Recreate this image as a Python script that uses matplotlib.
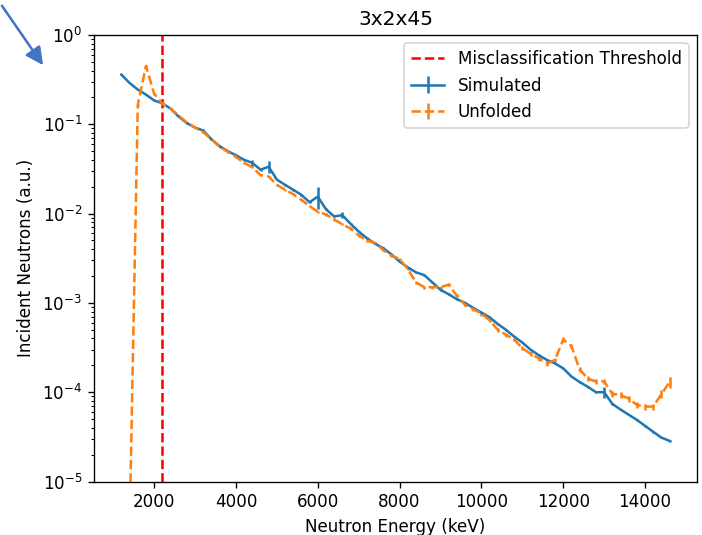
import numpy as np
import matplotlib
matplotlib.use("Agg")
import matplotlib.pyplot as plt

# energy grid (keV) and spectra
energy = list(range(1200, 14601, 200))

simulated = [0.36, 0.29, 0.245, 0.215, 0.185, 0.172, 0.150, 0.122, 0.103, 0.092,
             0.085, 0.068, 0.057, 0.050, 0.045, 0.040, 0.037, 0.031, 0.0335, 0.024,
             0.021, 0.0185, 0.0162, 0.0134, 0.0155, 0.0112, 0.0093, 0.0096, 0.0077, 0.0063,
             0.0053, 0.0046, 0.0041, 0.0035, 0.0029, 0.0025, 0.0022, 0.00205, 0.0017, 0.0014,
             0.00125, 0.0011, 0.0010, 0.00088, 0.00078, 0.00069, 0.00058, 0.00050, 0.00042, 0.00036,
             0.00030, 0.00026, 0.00023, 0.00021, 0.000185, 0.00015, 0.00013, 0.000115, 0.00010, 0.00010,
             7.4e-5, 6.4e-5, 5.6e-5, 4.9e-5, 4.2e-5, 3.6e-5, 3.1e-5, 2.85e-5]

# relative errors on simulated
sim_relerr = [0.01, 0.01, 0.01, 0.01, 0.01, 0.01, 0.01, 0.01, 0.01, 0.01,
              0.05, 0.01, 0.01, 0.01, 0.01, 0.02, 0.09, 0.02, 0.15, 0.02,
              0.02, 0.02, 0.02, 0.02, 0.27, 0.02, 0.02, 0.08, 0.02, 0.02,
              0.02, 0.02, 0.02, 0.02, 0.02, 0.02, 0.02, 0.03, 0.02, 0.02,
              0.02, 0.02, 0.02, 0.02, 0.02, 0.02, 0.02, 0.02, 0.02, 0.02,
              0.02, 0.02, 0.02, 0.02, 0.02, 0.02, 0.02, 0.02, 0.02, 0.13,
              0.02, 0.02, 0.02, 0.02, 0.02, 0.02, 0.02, 0.02]

unfolded = [1e-8, 3e-6, 0.165, 0.45, 0.22, 0.17, 0.150, 0.125, 0.105, 0.092,
            0.082, 0.068, 0.056, 0.049, 0.043, 0.037, 0.033, 0.027, 0.026, 0.021,
            0.0185, 0.0165, 0.0143, 0.0121, 0.0105, 0.0098, 0.0086, 0.0076, 0.0068, 0.0057,
            0.0050, 0.0047, 0.0039, 0.0034, 0.0031, 0.0024, 0.0017, 0.0015, 0.0015, 0.0015,
            0.0016, 0.0012, 0.00095, 0.00085, 0.00076, 0.00064, 0.00050, 0.00044, 0.00039, 0.00031,
            0.00027, 0.00024, 0.00021, 0.00023, 0.00039, 0.00033, 0.00018, 0.000142, 0.000132, 0.000132,
            9.6e-5, 9.3e-5, 8.5e-5, 7.2e-5, 6.9e-5, 6.9e-5, 9.5e-5, 0.00013]

unf_relerr = [0.0, 0.0, 0.02, 0.02, 0.02, 0.02, 0.02, 0.02, 0.02, 0.02,
              0.02, 0.02, 0.02, 0.02, 0.02, 0.02, 0.02, 0.02, 0.02, 0.02,
              0.03, 0.03, 0.03, 0.03, 0.03, 0.03, 0.03, 0.03, 0.03, 0.03,
              0.03, 0.03, 0.03, 0.03, 0.03, 0.03, 0.04, 0.04, 0.04, 0.04,
              0.04, 0.04, 0.04, 0.04, 0.05, 0.05, 0.05, 0.05, 0.05, 0.05,
              0.06, 0.06, 0.06, 0.06, 0.06, 0.06, 0.07, 0.07, 0.07, 0.07,
              0.08, 0.08, 0.08, 0.08, 0.08, 0.08, 0.10, 0.15]

threshold = 2200

sim = np.array(simulated)
unf = np.array(unfolded)

fig = plt.figure(figsize=(702 / 121, 535 / 121), dpi=121)
ax = fig.add_axes([94 / 702, 53.5 / 535, 603 / 702, 446.5 / 535])

ax.axvline(threshold, color='red', linestyle='--', label='Misclassification Threshold')
ax.errorbar(energy, sim, yerr=sim * np.array(sim_relerr), color='C0', label='Simulated')
ax.errorbar(energy, unf, yerr=unf * np.array(unf_relerr), color='C1', linestyle='--', label='Unfolded')

ax.set_yscale('log')
ax.set_ylim(1e-5, 1)
ax.set_title('3x2x45')
ax.set_xlabel('Neutron Energy (keV)')
ax.set_ylabel('Incident Neutrons (a.u.)')
ax.legend(loc='upper right')

# arrow from the screenshot annotation
ax.annotate('', xy=(45, 467), xytext=(0, 532), xycoords='figure pixels', textcoords='figure pixels',
            arrowprops=dict(arrowstyle='-|>', color='#4472C4', lw=1.5, mutation_scale=22))

fig.savefig('out.png', dpi=121)
